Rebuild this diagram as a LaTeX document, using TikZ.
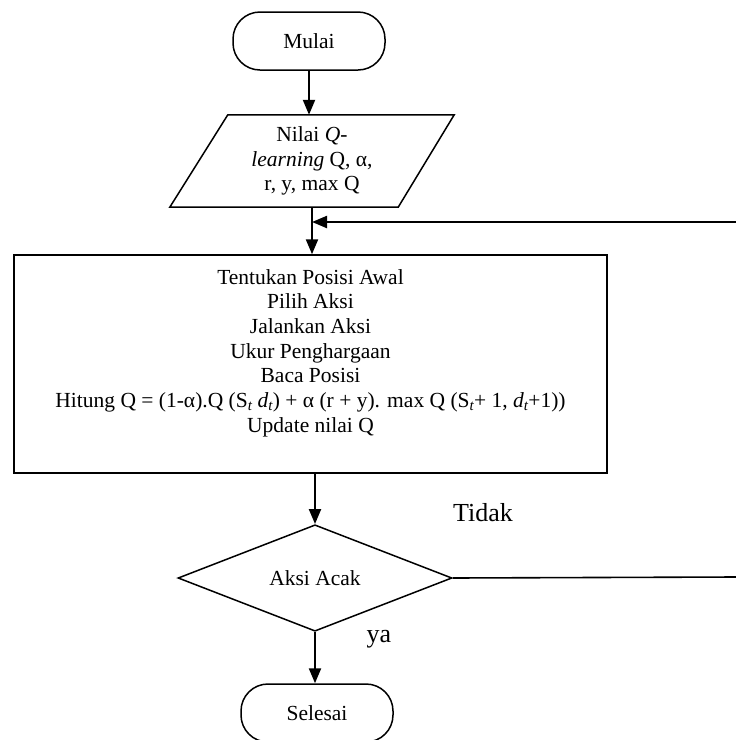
\documentclass[tikz,border=0pt]{standalone}
\usepackage{fontspec}
\setmainfont{Liberation Serif}
\usetikzlibrary{arrows.meta,shapes.geometric}
% lowered italic subscript
\newcommand{\lowsub}[1]{\raisebox{-0.32ex}{\fontsize{15}{15}\selectfont\textit{#1}}}
\begin{document}
\begin{tikzpicture}[x=1pt,y=-1pt,
  every node/.style={font=\fontsize{21.5}{24.7}\selectfont, text=black},
  terminal/.style={draw, line width=1.5pt, rounded corners=27pt, minimum width=152pt, minimum height=58pt, inner sep=0pt},
  shapeline/.style={draw, line width=1.5pt},
  flow/.style={line width=2.2pt, -{Triangle[length=15pt,width=12pt]}},
  plainline/.style={line width=1.6pt},
  label/.style={font=\fontsize{26}{30}\selectfont}
]
\useasboundingbox (0,0) rectangle (736,740);

% start terminal
\node[terminal] (mulai) at (309,41) {Mulai};

% input / output block (parallelogram drawn around a text area)
\node[minimum width=226pt, minimum height=92pt, inner sep=0pt, align=center] (inp) at (312,161)
  {Nilai \textit{Q}-\\\textit{learning} Q, α,\\r, y, max Q};
\draw[shapeline] ([xshift=29pt]inp.north west) -- ([xshift=29pt]inp.north east)
  -- ([xshift=-27pt]inp.south east) -- ([xshift=-29pt]inp.south west) -- cycle;

% process block
\node[shapeline, minimum width=593pt, minimum height=218pt, inner sep=0pt] (proc) at (310.5,364) {};
\node[align=center, inner sep=0pt] (proctext) at ([yshift=11pt]proc.center)
  {Tentukan Posisi Awal\\
   Pilih Aksi\\
   Jalankan Aksi\\
   Ukur Penghargaan\\
   Baca Posisi\\
   Hitung Q = (1-α).Q (S\lowsub{t} \textit{d}\lowsub{t}) + α (r + y). max Q (S\lowsub{t}+ 1, \textit{d}\lowsub{t}+1))\\
   Update nilai Q};

% decision
\node[diamond, shapeline, minimum width=274pt, minimum height=82pt, inner sep=0pt] (dec) at (315,578) {Aksi Acak};

% end terminal
\node[terminal] (selesai) at (317,713) {Selesai};

% loop-back ends running off to the right
\coordinate (fbin) at (736,222);
\coordinate (fbout) at (736,577);

% connectors
\draw[flow] (mulai.south) -- (mulai.south |- inp.north);
\draw[flow] (inp.south) -- (inp.south |- proc.north);
\draw[flow] (fbin) -- (fbin -| inp.south);
\draw[flow] (proc.south -| dec.north) -- (dec.north);
\draw[plainline] (dec.east) -- (fbout);
\draw[flow] (dec.south) -- (dec.south |- selesai.north);

% branch labels
\node[label] (tidak) at (483,513) {Tidak};
\node[label] (ya) at (379,639) {ya};
\end{tikzpicture}
\end{document}
